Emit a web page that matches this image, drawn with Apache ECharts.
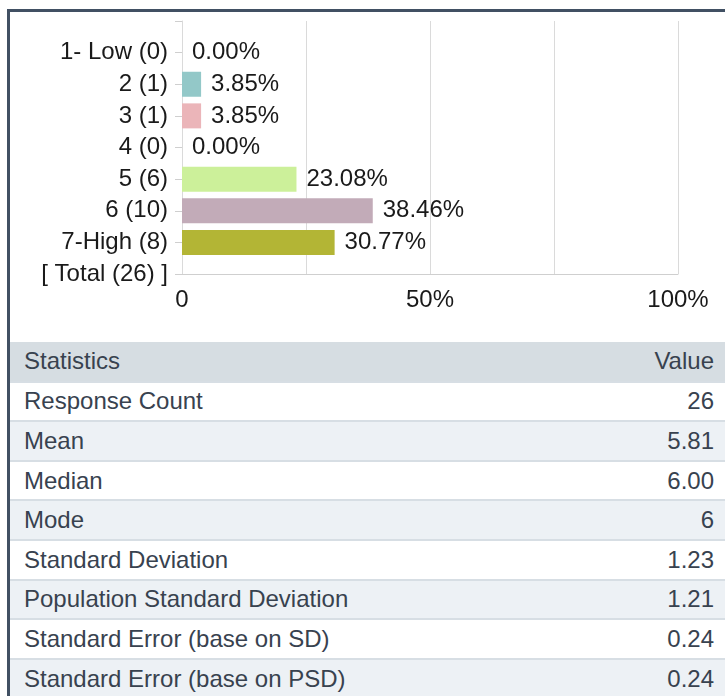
<!DOCTYPE html>
<html>
<head>
<meta charset="utf-8">
<script src="https://cdn.jsdelivr.net/npm/echarts@6/dist/echarts.min.js"></script>
<style>
  body { margin: 0; background: #fff; font-family: "Liberation Sans", Arial, sans-serif; }
  #wrap { position: relative; width: 725px; height: 696px; overflow: hidden; }
  #frame { position: absolute; left: 7px; top: 9px; width: 800px; height: 800px;
    border-top: 3px solid #415063; border-left: 3px solid #415063; pointer-events: none; }
  #chart { position: absolute; left: 0; top: 0; width: 725px; height: 330px; }
  #stats { position: absolute; left: 10px; top: 342px; width: 715px; border-collapse: collapse;
    font-size: 24px; color: #38424f; }
  #stats td, #stats th { height: 39.6px; padding: 0 11px 0 14px; font-weight: normal; box-sizing: border-box; }
  #stats th { background: #d6dde2; text-align: left; }
  #stats th.v, #stats td.v { text-align: right; }
  #stats tr.odd td { background: #fff; }
  #stats tr.even td { background: #edf1f5; }
  #stats tr + tr td { border-top: 2px solid #d7dee4; }
</style>
</head>
<body>
<div id="wrap">
  <div id="chart"></div>
  <table id="stats"></table>
  <div id="frame"></div>
</div>
<script>
// 分类和数值
const categories = ['1- Low (0)', '2 (1)', '3 (1)', '4 (0)', '5 (6)', '6 (10)', '7-High (8)', '[ Total (26) ]']
const percents = [0, 3.85, 3.85, 0, 23.08, 38.46, 30.77, null]
const barColors = ['#93c8c8', '#93c8c8', '#ebb5b9', '#93c8c8', '#ccf09a', '#c2abb8', '#b3b535', '#93c8c8']
const xTickLabels = { 0: '0', 50: '50%', 100: '100%' }

// 统计表
const statNames = ['Response Count', 'Mean', 'Median', 'Mode', 'Standard Deviation',
  'Population Standard Deviation', 'Standard Error (base on SD)', 'Standard Error (base on PSD)']
const statValues = ['26', '5.81', '6.00', '6', '1.23', '1.21', '0.24', '0.24']

const chart = echarts.init(document.getElementById('chart'))
const textStyle = { fontFamily: 'Liberation Sans', fontSize: 24, color: '#1a1a1a' }

const option = {
  animation: false,
  grid: { left: 182, right: 47, top: 21, bottom: 56 },
  xAxis: {
    type: 'value',
    min: 0,
    max: 100,
    interval: 25,
    axisLine: { show: true, lineStyle: { color: '#cfcfcf' } },
    axisTick: { show: false },
    splitLine: { show: true, lineStyle: { color: '#dadada' } },
    axisLabel: Object.assign({ margin: 14, formatter: v => xTickLabels[v] || '' }, textStyle)
  },
  yAxis: {
    type: 'category',
    inverse: true,
    boundaryGap: false,
    data: [''].concat(categories),
    axisLine: { show: true, lineStyle: { color: '#dadada' } },
    axisTick: { show: true, length: 7, lineStyle: { color: '#cfcfcf' } },
    axisLabel: Object.assign({ margin: 14 }, textStyle)
  },
  series: [{
    type: 'bar',
    barWidth: 25,
    data: [null].concat(percents.map((v, i) => v === null ? null : {
      value: v,
      itemStyle: { color: barColors[i] }
    })),
    label: {
      show: true,
      position: 'right',
      distance: 10,
      formatter: p => p.value.toFixed(2) + '%',
      fontFamily: 'Liberation Sans',
      fontSize: 24,
      color: '#1a1a1a'
    }
  }]
}
chart.setOption(option)

// 生成表格
let html = '<tr><th>Statistics</th><th class="v">Value</th></tr>'
statNames.forEach((name, i) => {
  html += '<tr class="' + (i % 2 ? 'even' : 'odd') + '"><td>' + name + '</td><td class="v">' + statValues[i] + '</td></tr>'
})
document.getElementById('stats').innerHTML = html
</script>
</body>
</html>
